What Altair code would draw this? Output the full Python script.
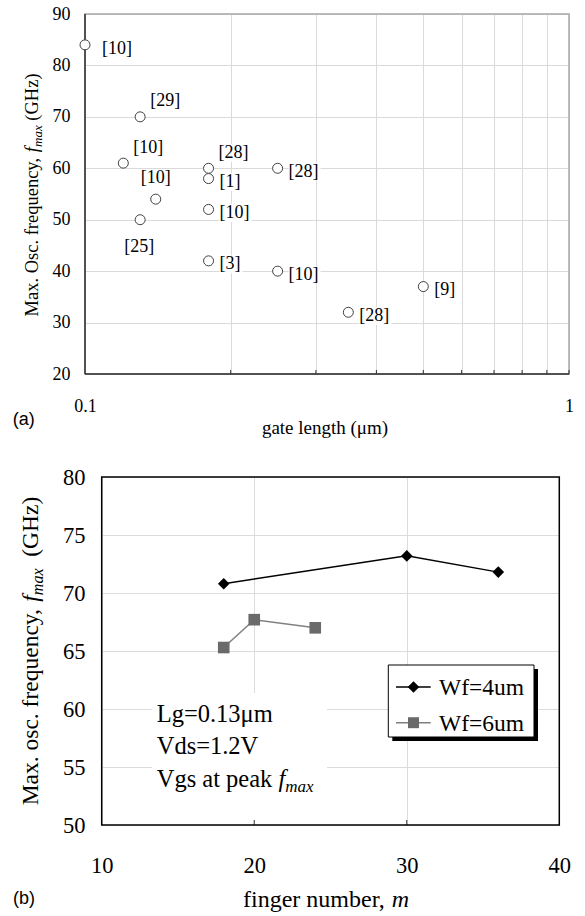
import altair as alt
import pandas as pd

# ---------------- data: panel (a) ----------------
gate_length = [0.1, 0.13, 0.12, 0.14, 0.13, 0.18, 0.18, 0.18, 0.18, 0.25, 0.25, 0.35, 0.5]
fmax_a = [84, 70, 61, 54, 50, 60, 58, 52, 42, 60, 40, 32, 37]
ref_labels = ["[10]", "[29]", "[10]", "[10]", "[25]", "[28]", "[1]", "[10]", "[3]",
              "[28]", "[10]", "[28]", "[9]"]
x_ticks_a = [0.1, 0.2, 0.3, 0.4, 0.5, 0.6, 0.7, 0.8, 0.9, 1.0]
y_ticks_a = [20, 30, 40, 50, 60, 70, 80, 90]

# ---------------- data: panel (b) ----------------
series_names = ["Wf=4um", "Wf=6um"]
finger_4 = [18, 30, 36]
fmax_4 = [70.8, 73.2, 71.8]
finger_6 = [18, 20, 24]
fmax_6 = [65.3, 67.7, 67.0]
x_ticks_b = [10, 20, 30, 40]
y_ticks_b = [50, 55, 60, 65, 70, 75, 80]
note_lines = ["Lg=0.13μm", "Vds=1.2V"]

# ---------------- styling ----------------
label_place = ["far", "upright", "upright", "up", "down", "upright", "right", "right",
               "right", "right", "right", "right", "right"]
PLACE = {"far": (17, 4, "left"), "upright": (10, -15.5, "left"), "up": (0, -21, "center"),
         "down": (-1, 27, "center"), "right": (11, 3.5, "left")}
LABEL_SIZE = 18

SERIF = "Liberation Serif"
SANS = "Liberation Sans"
DUMMY = pd.DataFrame({"d": [0]})

ROMAN = {' ': 250, '(': 333, ')': 333, ',': 250, '.': 250, '=': 564, '[': 333, ']': 333,
         'G': 722, 'H': 722, 'L': 611, 'M': 889, 'O': 722, 'V': 722, 'W': 944,
         'a': 444, 'b': 500, 'c': 444, 'd': 500, 'e': 444, 'f': 333, 'g': 500, 'h': 500,
         'i': 278, 'k': 500, 'l': 278, 'm': 778, 'n': 500, 'o': 500, 'p': 500, 'q': 500,
         'r': 333, 's': 389, 't': 278, 'u': 500, 'v': 500, 'x': 500, 'y': 500, 'z': 444,
         'μ': 576}
for _d in "0123456789":
    ROMAN[_d] = 500
ITAL = {'f': 278, 'm': 722, 'a': 500, 'x': 444}


def text_width(s, size, italic=False):
    tbl = ITAL if italic else ROMAN
    return sum(tbl.get(c, ROMAN.get(c, 500)) for c in s) * size / 1000.0


def rich_width(pieces):
    return sum(text_width(s, size, it) for s, size, it, sh in pieces)


def rich(pieces, x0, y0, vertical=False):
    layers = []
    pos = 0.0
    for s, size, italic, shift in pieces:
        core = s.strip(" ")
        lead = len(s) - len(s.lstrip(" "))
        trail = len(s) - len(s.rstrip(" "))
        pos += lead * ROMAN[" "] * size / 1000.0
        if core:
            props = dict(text=core, font=SERIF, fontSize=size, align="left",
                         baseline="alphabetic", color="black")
            if italic:
                props["fontStyle"] = "italic"
            if vertical:
                props["angle"] = 270
                enc = dict(x=alt.value(x0 + shift), y=alt.value(y0 - pos))
            else:
                enc = dict(x=alt.value(x0 + pos), y=alt.value(y0 + shift))
            layers.append(alt.Chart(DUMMY).mark_text(**props).encode(**enc))
        pos += text_width(core, size, italic) + trail * ROMAN[" "] * size / 1000.0
    return layers


def bound_rule(**enc):
    return alt.Chart(DUMMY).mark_rule(color="white", strokeWidth=1).encode(**enc)


# ======================= panel (a) =======================
W_A, H_A = 484, 360
df_a = pd.DataFrame({"L": gate_length, "f": fmax_a, "ref": ref_labels, "place": label_place,
                     "idx": list(range(len(gate_length)))})

x_enc_a = alt.X("L:Q", scale=alt.Scale(type="log", domain=[0.1, 1]), axis=alt.Axis(
    values=x_ticks_a,
    labelExpr="datum.value < 0.15 ? '0.1' : (datum.value > 0.95 ? '1' : '')",
    grid=True, gridColor="#dadada", gridWidth=1, domain=False, ticks=False, tickSize=0,
    labelPadding=32.7, labelBaseline="middle", labelFontSize=18, labelFont=SERIF,
    labelColor="black", labelFlush=False, labelOverlap=False, title=None))
y_enc_a = alt.Y("f:Q", scale=alt.Scale(domain=[20, 90]), axis=alt.Axis(
    values=y_ticks_a, grid=True, gridColor="#dadada", gridWidth=1, domain=False,
    ticks=False, tickSize=0, labelPadding=15, labelFontSize=18, labelFont=SERIF,
    labelColor="black", labelFlush=False, labelOverlap=False, title=None))

frame_a = alt.Chart(DUMMY).mark_rect(fillOpacity=0, stroke="#a8a8a8", strokeWidth=1.5).encode(
    x=alt.value(0), x2=alt.value(W_A), y=alt.value(0), y2=alt.value(H_A))
left_a = alt.Chart(DUMMY).mark_rule(color="#303030", strokeWidth=1.5).encode(
    x=alt.value(0), y=alt.value(0), y2=alt.value(H_A))
bottom_a = alt.Chart(DUMMY).mark_rule(color="#303030", strokeWidth=1.5).encode(
    x=alt.value(0), x2=alt.value(W_A), y=alt.value(H_A))
ticks_a = alt.Chart(pd.DataFrame({"L": x_ticks_a[1:]})).mark_rule(color="#303030", strokeWidth=1).encode(
    x=x_enc_a, y=alt.value(H_A), y2=alt.value(H_A - 4))

# white backing boxes behind the reference labels
boxes_a = []
for i, (lab, place) in enumerate(zip(ref_labels, label_place)):
    dx, dy, align = PLACE[place]
    w = text_width(lab, LABEL_SIZE) + 2
    cx = dx + w / 2 if align == "left" else dx
    boxes_a.append(
        alt.Chart(df_a).transform_filter(alt.datum.idx == i).mark_rect(
            color="white", width=w, height=18, xOffset=cx, yOffset=dy
        ).encode(x=x_enc_a, y=y_enc_a))

points_a = alt.Chart(df_a).mark_point(shape="circle", size=100, filled=True, fill="white",
                                      stroke="#404040", strokeWidth=1, opacity=1).encode(
    x=x_enc_a, y=y_enc_a)

labels_a = []
for place, (dx, dy, align) in PLACE.items():
    labels_a.append(
        alt.Chart(df_a).transform_filter(alt.datum.place == place).mark_text(
            font=SERIF, fontSize=LABEL_SIZE, align=align, baseline="middle", dx=dx, dy=dy,
            color="black"
        ).encode(x=x_enc_a, y=y_enc_a, text="ref:N"))

ytitle_a = [("Max. Osc. frequency, ", 18.5, False, 0), ("f", 18.5, True, 0),
            ("max", 13, True, 4), (" (GHz)", 18.5, False, 0)]
ytitle_a_layers = rich(ytitle_a, -47.5, 181 + rich_width(ytitle_a) / 2, vertical=True)

xtitle_a = alt.Chart(DUMMY).mark_text(text="gate length (μm)", font=SERIF, fontSize=19,
                                      align="center", baseline="middle", color="black").encode(
    x=alt.value(240), y=alt.value(414))
tag_a = alt.Chart(DUMMY).mark_text(text="(a)", font=SANS, fontSize=18, align="left",
                                   baseline="middle", color="black").encode(
    x=alt.value(-72.3), y=alt.value(406))

chart_a = alt.layer(
    frame_a, left_a, bottom_a, ticks_a, *boxes_a, points_a, *labels_a, *ytitle_a_layers,
    xtitle_a, tag_a,
    bound_rule(x=alt.value(-84.5), y=alt.value(0), y2=alt.value(1)),
    bound_rule(x=alt.value(0), x2=alt.value(1), y=alt.value(-13.5)),
    bound_rule(x=alt.value(0), x2=alt.value(1), y=alt.value(440)),
).properties(width=W_A, height=H_A)

# ======================= panel (b) =======================
W_B, H_B = 474, 348
XR_B = [16.7, 474.3]
df_b = pd.DataFrame({"m": finger_4 + finger_6, "f": fmax_4 + fmax_6,
                     "s": [series_names[0]] * len(finger_4) + [series_names[1]] * len(finger_6)})

x_enc_b = alt.X("m:Q", scale=alt.Scale(domain=[10, 40], range=XR_B), axis=alt.Axis(
    values=x_ticks_b, grid=True, gridColor="#dcdcdc", gridWidth=1, domain=False, ticks=False,
    tickSize=0, labelPadding=40, labelBaseline="middle", labelFontSize=22.5, labelFont=SERIF,
    labelColor="black", labelFlush=False, labelOverlap=False, title=None))
y_enc_b = alt.Y("f:Q", scale=alt.Scale(domain=[50, 80]), axis=alt.Axis(
    values=y_ticks_b, grid=True, gridColor="#dcdcdc", gridWidth=1, domain=False, ticks=False,
    tickSize=0, offset=-16.7, labelPadding=16.7, labelFontSize=22.5, labelFont=SERIF,
    labelColor="black", labelFlush=False, labelOverlap=False, title=None))

box_b = alt.Chart(DUMMY).mark_rect(color="white").encode(
    x=alt.value(67), x2=alt.value(242), y=alt.value(216), y2=alt.value(H_B))
frame_b = alt.Chart(DUMMY).mark_rect(fillOpacity=0, stroke="black", strokeWidth=1.5).encode(
    x=alt.value(XR_B[0]), x2=alt.value(XR_B[1]), y=alt.value(0), y2=alt.value(H_B))
ticks_b = alt.Chart(pd.DataFrame({"m": x_ticks_b[1:3]})).mark_rule(color="#303030", strokeWidth=1).encode(
    x=x_enc_b, y=alt.value(H_B), y2=alt.value(H_B - 5))

lines_b = alt.Chart(df_b).mark_line(strokeWidth=1.5).encode(
    x=x_enc_b, y=y_enc_b,
    stroke=alt.Stroke("s:N", scale=alt.Scale(domain=series_names, range=["#000000", "#808080"]),
                      legend=None))
points_b = alt.Chart(df_b).mark_point(filled=True, opacity=1, size=135).encode(
    x=x_enc_b, y=y_enc_b,
    color=alt.Color("s:N", scale=alt.Scale(domain=series_names, range=["#000000", "#6a6a6a"]),
                    legend=None),
    shape=alt.Shape("s:N", scale=alt.Scale(domain=series_names, range=["diamond", "square"]),
                    legend=None))

note_b = []
for i, line in enumerate(note_lines):
    note_b += rich([(line, 24.5, False, 0)], 71.7, 245 + 32 * i)
note_b += rich([("Vgs at peak ", 24.5, False, 0), ("f", 24.5, True, 0), ("max", 17, True, 5)],
               71.7, 310)

# manual legend
leg = [
    alt.Chart(DUMMY).mark_rect(color="black").encode(
        x=alt.value(307.3), x2=alt.value(453), y=alt.value(192), y2=alt.value(264)),
    alt.Chart(DUMMY).mark_rect(color="white", stroke="black", strokeWidth=1).encode(
        x=alt.value(303.3), x2=alt.value(449), y=alt.value(188), y2=alt.value(260)),
    alt.Chart(DUMMY).mark_rule(color="black", strokeWidth=1.5).encode(
        x=alt.value(311), x2=alt.value(345.7), y=alt.value(210)),
    alt.Chart(DUMMY).mark_rule(color="#808080", strokeWidth=1.5).encode(
        x=alt.value(311), x2=alt.value(345.7), y=alt.value(245.7)),
    alt.Chart(DUMMY).mark_point(shape="diamond", filled=True, opacity=1, color="black", size=135).encode(
        x=alt.value(328.5), y=alt.value(210)),
    alt.Chart(DUMMY).mark_point(shape="square", filled=True, opacity=1, color="#6a6a6a", size=120).encode(
        x=alt.value(328.5), y=alt.value(245.7)),
    alt.Chart(DUMMY).mark_text(text=series_names[0], font=SERIF, fontSize=23.5, align="left",
                               baseline="middle", color="black").encode(x=alt.value(354), y=alt.value(211)),
    alt.Chart(DUMMY).mark_text(text=series_names[1], font=SERIF, fontSize=23.5, align="left",
                               baseline="middle", color="black").encode(x=alt.value(354), y=alt.value(246.5)),
]

ytitle_b = [("Max. osc. frequency, ", 23.5, False, 0), ("f", 23.5, True, 0),
            ("max", 16, True, 5), ("  (GHz)", 23.5, False, 0)]
ytitle_b_layers = rich(ytitle_b, -47.5, 174 + rich_width(ytitle_b) / 2, vertical=True)

xtitle_b = [("finger number, ", 24, False, 0), ("m", 24, True, 0)]
xtitle_b_layers = rich(xtitle_b, 241 - rich_width(xtitle_b) / 2, 430)

tag_b = alt.Chart(DUMMY).mark_text(text="(b)", font=SANS, fontSize=18, align="left",
                                   baseline="middle", color="black").encode(
    x=alt.value(-72), y=alt.value(422))

chart_b = alt.layer(
    box_b, ticks_b, lines_b, points_b, frame_b, *note_b, *leg, *ytitle_b_layers,
    *xtitle_b_layers, tag_b,
    bound_rule(x=alt.value(0), x2=alt.value(1), y=alt.value(-21)),
).properties(width=W_B, height=H_B)

chart = alt.vconcat(chart_a, chart_b, spacing=0).properties(
    padding={"left": 0, "top": 0, "right": 0, "bottom": 0}
).configure_view(stroke=None)

chart.save("out.html", embed_options={"renderer": "svg", "actions": False})
